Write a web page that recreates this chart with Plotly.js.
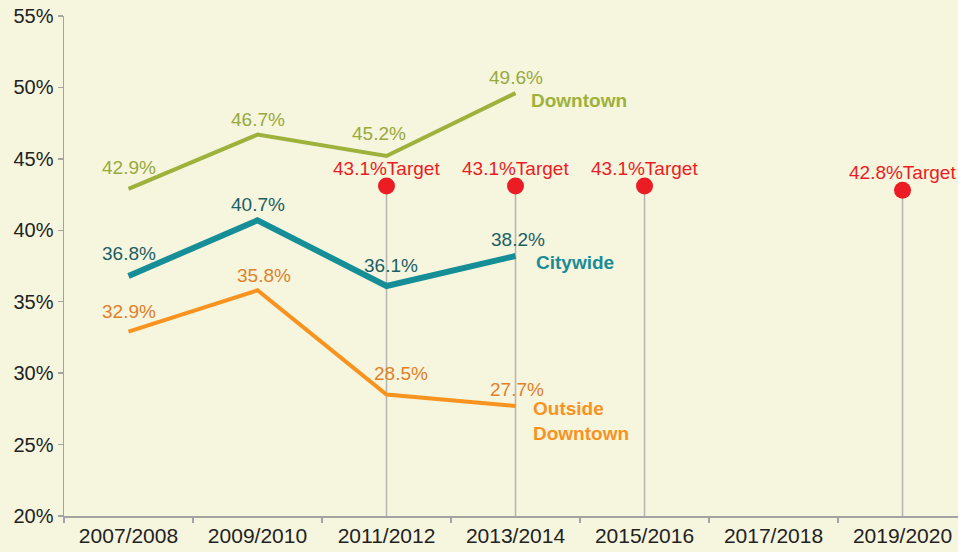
<!DOCTYPE html>
<html>
<head>
<meta charset="utf-8">
<script src="https://cdn.plot.ly/plotly-3.0.1.min.js"></script>
<style>
html,body{margin:0;padding:0;background:#f6f5de;}
#chart{width:958px;height:552px;}
</style>
</head>
<body>
<div id="chart"></div>
<script>
// ---- data ----
var categories = ["2007/2008","2009/2010","2011/2012","2013/2014","2015/2016","2017/2018","2019/2020"];
var seriesCats = ["2007/2008","2009/2010","2011/2012","2013/2014"];
var downtown = [42.9, 46.7, 45.2, 49.6];
var citywide = [36.8, 40.7, 36.1, 38.2];
var outside = [32.9, 35.8, 28.5, 27.7];
var targetCats = ["2011/2012","2013/2014","2015/2016","2019/2020"];
var targetVals = [43.1, 43.1, 43.1, 42.8];
var yTickVals = [20,25,30,35,40,45,50,55];

// ---- styles ----
var BG = "#f6f5de";
var C_DT = "#9db13b", C_DT_TXT = "#98aa3c";
var C_CW = "#168e97", C_CW_TXT = "#1b5f66", C_CW_NAME = "#1a8c95";
var C_OD = "#f7931e", C_OD_TXT = "#e0812b";
var C_TG = "#ec1c24";
var FONT = "Liberation Sans, Arial, sans-serif";

// label offsets [dx, dy] per point (styling)
var offDT = [[0,-21],[0,-15],[-8,-23],[0,-16]];
var offCW = [[0,-23],[0,-16],[4,-21],[2,-17]];
var offOD = [[0,-20],[6,-15],[14,-21],[1,-17]];

var baseY = yTickVals[0];
var stemX = [], stemY = [];
targetCats.forEach(function(c, i){ stemX.push(c, c, null); stemY.push(baseY, targetVals[i], null); });

var traces = [
  {x: stemX, y: stemY, mode: "lines", line: {color: "#b4b4b0", width: 1.5}, hoverinfo: "skip", cliponaxis: false},
  {x: seriesCats, y: outside, mode: "lines", line: {color: C_OD, width: 4}},
  {x: seriesCats, y: citywide, mode: "lines", line: {color: C_CW, width: 6}},
  {x: seriesCats, y: downtown, mode: "lines", line: {color: C_DT, width: 4}},
  {x: targetCats, y: targetVals, mode: "markers", marker: {color: C_TG, size: 17}, cliponaxis: false}
];

var ann = [];
function addLabels(vals, offs, color){
  vals.forEach(function(v, i){
    ann.push({x: seriesCats[i], y: v, text: v.toFixed(1) + "%", showarrow: false,
      xshift: offs[i][0], yshift: -offs[i][1], font: {family: FONT, size: 19, color: color},
      xanchor: "center", yanchor: "middle"});
  });
}
addLabels(downtown, offDT, C_DT_TXT);
addLabels(citywide, offCW, C_CW_TXT);
addLabels(outside, offOD, C_OD_TXT);
targetCats.forEach(function(c, i){
  ann.push({x: c, y: targetVals[i], text: targetVals[i].toFixed(1) + "%Target", showarrow: false,
    xshift: 0, yshift: 18, font: {family: FONT, size: 19, color: C_TG}, xanchor: "center", yanchor: "middle"});
});
var last = seriesCats.length - 1;
ann.push({x: seriesCats[last], y: downtown[last], text: "<b>Downtown</b>", showarrow: false,
  xshift: 13, yshift: -7, xanchor: "left", yanchor: "middle", font: {family: FONT, size: 19, color: C_DT}});
ann.push({x: seriesCats[last], y: citywide[last], text: "<b>Citywide</b>", showarrow: false,
  xshift: 18, yshift: -6, xanchor: "left", yanchor: "middle", font: {family: FONT, size: 19, color: C_CW_NAME}});
ann.push({x: seriesCats[last], y: outside[last], text: "<b>Outside<br>Downtown</b>", showarrow: false,
  xshift: 15, yshift: -15, xanchor: "left", yanchor: "middle", align: "left", font: {family: FONT, size: 19, color: C_OD}});

var layout = {
  width: 958, height: 552,
  margin: {l: 64, r: 0, t: 16, b: 36},
  paper_bgcolor: BG, plot_bgcolor: BG,
  showlegend: false,
  font: {family: FONT, color: "#222"},
  xaxis: {type: "category", categoryarray: categories, categoryorder: "array",
    range: [-0.5, 6.43], showgrid: false, zeroline: false,
    showline: true, linecolor: "#a3a3a3", linewidth: 1.5,
    ticks: "outside", tickson: "boundaries", ticklen: 5, tickcolor: "#a3a3a3", tickwidth: 1.5,
    tickfont: {family: FONT, size: 21, color: "#222"}, fixedrange: true},
  yaxis: {range: [20, 55], tickvals: yTickVals, ticktext: yTickVals.map(function(v){return v + "%";}),
    showgrid: false, zeroline: false, showline: true, linecolor: "#a3a3a3", linewidth: 1.5,
    ticks: "outside", ticklen: 5, tickcolor: "#a3a3a3", tickwidth: 1.5,
    tickfont: {family: FONT, size: 20, color: "#222"}, fixedrange: true},
  annotations: ann
};

Plotly.newPlot("chart", traces, layout, {displayModeBar: false, staticPlot: true});
</script>
</body>
</html>
